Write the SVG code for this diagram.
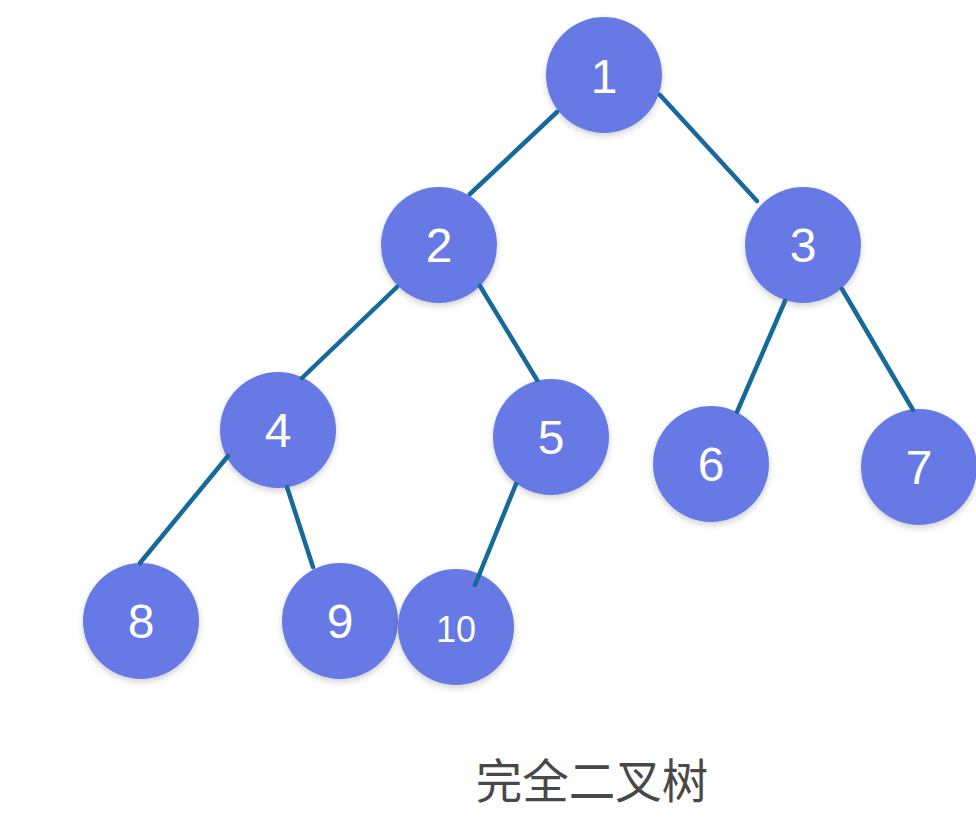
<svg xmlns="http://www.w3.org/2000/svg" width="976" height="822" viewBox="0 0 976 822">
<style>
.node circle{fill:#6679E5;filter:url(#sh)}
.node text{fill:#fff;font-family:"Liberation Sans",Arial,sans-serif;font-size:48px;text-anchor:middle}
.edge{stroke:#17699A;stroke-width:4.5;stroke-linecap:round;fill:none}
.cap{fill:#484848;font-family:"Noto Sans CJK SC","Noto Sans",sans-serif;font-size:46.5px;text-anchor:middle}
</style>
<defs>
<filter id="sh" x="-20%" y="-20%" width="140%" height="150%">
<feDropShadow dx="0" dy="3" stdDeviation="3" flood-color="#000" flood-opacity="0.18"/>
</filter>
</defs>
<rect width="976" height="822" fill="#fff"/>
<g id="n1" class="node"><circle cx="604" cy="75" r="58"/><text x="604" y="93">1</text></g>
<g id="n2" class="node"><circle cx="439" cy="245" r="58"/><text x="439" y="262">2</text></g>
<g id="n3" class="node"><circle cx="803" cy="245" r="58"/><text x="803" y="262">3</text></g>
<g id="n4" class="node"><circle cx="278" cy="430" r="58"/><text x="278" y="447">4</text></g>
<g id="n5" class="node"><circle cx="551" cy="437" r="58"/><text x="551" y="454">5</text></g>
<g id="n6" class="node"><circle cx="711" cy="464" r="58"/><text x="711" y="481">6</text></g>
<g id="n7" class="node"><circle cx="919" cy="467" r="58"/><text x="919" y="484">7</text></g>
<g id="n8" class="node"><circle cx="141" cy="621" r="58"/><text x="141" y="638">8</text></g>
<g id="n9" class="node"><circle cx="340" cy="621" r="58"/><text x="340" y="638">9</text></g>
<g id="n10" class="node"><circle cx="456" cy="627" r="58"/><text x="456" y="642" style="font-size:36px">10</text></g>
<g id="edges">
<line class="edge" x1="557" y1="112" x2="470" y2="194"/>
<line class="edge" x1="660" y1="95" x2="757" y2="201"/>
<line class="edge" x1="397" y1="287" x2="302" y2="378"/>
<line class="edge" x1="480" y1="286" x2="537" y2="380"/>
<line class="edge" x1="785" y1="301" x2="737" y2="412"/>
<line class="edge" x1="842" y1="289" x2="913" y2="410"/>
<line class="edge" x1="228" y1="456" x2="140" y2="563"/>
<line class="edge" x1="287" y1="487" x2="313" y2="567"/>
<line class="edge" x1="516" y1="484" x2="475" y2="585"/>
</g>
<text class="cap" x="592" y="798">完全二叉树</text>
</svg>
